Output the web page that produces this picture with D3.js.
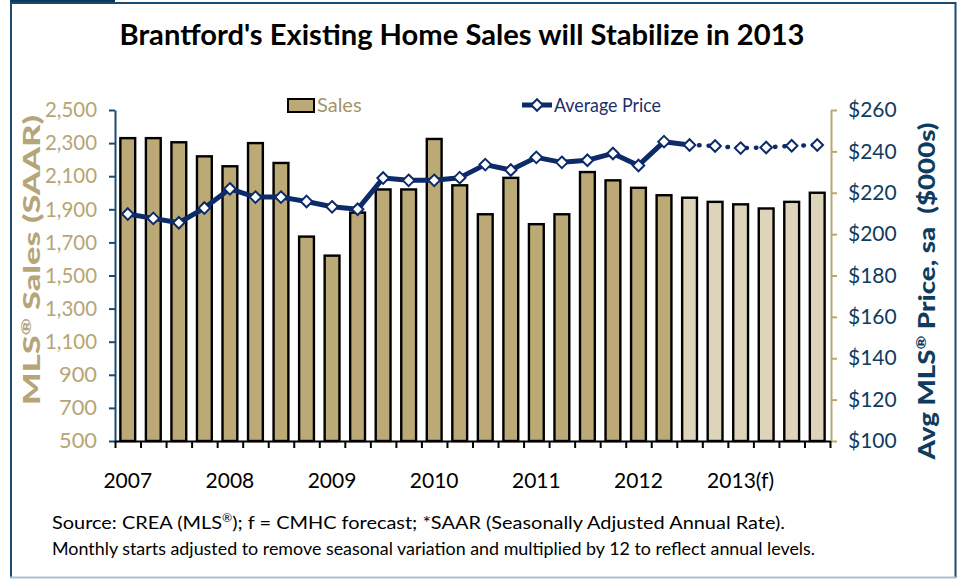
<!DOCTYPE html>
<html>
<head>
<meta charset="utf-8">
<script src="https://cdn.jsdelivr.net/npm/d3@7"></script>
<style>
  body { margin: 0; background: #fff; }
  svg { display: block; font-family: Lato, "Open Sans", sans-serif; }
</style>
</head>
<body>
<script>
// DATA
const quarters = [
  "2007Q1","2007Q2","2007Q3","2007Q4","2008Q1","2008Q2","2008Q3","2008Q4",
  "2009Q1","2009Q2","2009Q3","2009Q4","2010Q1","2010Q2","2010Q3","2010Q4",
  "2011Q1","2011Q2","2011Q3","2011Q4","2012Q1","2012Q2","2012Q3","2012Q4",
  "2013Q1","2013Q2","2013Q3","2013Q4"
];
const sales = [2330, 2330, 2305, 2220, 2160, 2300, 2180, 1735, 1620, 1880, 2020, 2020, 2325, 2045,
  1870, 2090, 1810, 1870, 2125, 2075, 2030, 1985, 1970, 1945, 1930, 1905, 1945, 2000];
const avgPrice = [209.7, 207.6, 205.5, 212.6, 221.9, 217.9, 217.9, 215.8, 213.2, 212.0, 227.1, 226.0,
  226.0, 227.3, 233.6, 231.0, 237.1, 234.7, 235.7, 239.0, 233.2, 244.7, 243.1, 242.6, 241.6, 241.9,
  242.7, 243.1];
const forecastStart = 22; // 2012Q3 onwards is forecast
const yearLabels = ["2007", "2008", "2009", "2010", "2011", "2012", "2013(f)"];
const salesTicks = [500, 700, 900, 1100, 1300, 1500, 1700, 1900, 2100, 2300, 2500];
const priceTicks = [100, 120, 140, 160, 180, 200, 220, 240, 260];

const width = 959, height = 579;
const plotLeft = 115, plotRight = 830, plotTop = 110, plotBottom = 441;
const TAN = "#bcaa76", TAN_LIGHT = "#ddd4b9", NAVY = "#0c2b68", TEAL = "#0f3c5e", TAN_TEXT = "#b5a578";

const svg = d3.select("body").append("svg").attr("width", width).attr("height", height);

// FRAME
svg.append("rect").attr("x", 10).attr("y", 0).attr("width", 105).attr("height", 4).attr("fill", "#0d3a5c");
svg.append("line").attr("x1", 10).attr("x2", 956).attr("y1", 3).attr("y2", 3).attr("stroke", "#1a4a70").attr("stroke-width", 2);
svg.append("line").attr("x1", 11).attr("x2", 11).attr("y1", 2).attr("y2", 578).attr("stroke", "#1a4a70").attr("stroke-width", 2);
svg.append("line").attr("x1", 955.5).attr("x2", 955.5).attr("y1", 2).attr("y2", 578).attr("stroke", "#1a4a70").attr("stroke-width", 2);
svg.append("line").attr("x1", 10).attr("x2", 956).attr("y1", 577.5).attr("y2", 577.5).attr("stroke", "#a9bfd0").attr("stroke-width", 2);

// TITLE
svg.append("text").attr("x", 462).attr("y", 45).attr("text-anchor", "middle")
  .attr("font-size", 29).attr("font-weight", 700).attr("fill", "#000")
  .attr("textLength", 685).attr("lengthAdjust", "spacingAndGlyphs")
  .text("Brantford's Existing Home Sales will Stabilize in 2013");

// SCALES
const x = d3.scaleBand().domain(quarters).range([plotLeft, plotRight]).paddingInner(0.42).paddingOuter(0.21);
const xIdx = d3.scaleLinear().domain([0, quarters.length]).range([plotLeft, plotRight]);
const ySales = d3.scaleLinear().domain([500, 2500]).range([plotBottom, plotTop]);
const yPrice = d3.scaleLinear().domain([100, 260]).range([plotBottom, plotTop]);

// BARS
svg.append("g").selectAll("rect").data(sales).join("rect")
  .attr("x", (d, i) => x(quarters[i]))
  .attr("y", d => ySales(d))
  .attr("width", x.bandwidth())
  .attr("height", d => plotBottom - ySales(d))
  .attr("fill", (d, i) => i >= forecastStart ? TAN_LIGHT : TAN)
  .attr("stroke", "#000").attr("stroke-width", 2.4);

// AXES
const leftAxis = svg.append("g").attr("transform", `translate(${plotLeft},0)`)
  .call(d3.axisLeft(ySales).tickValues(salesTicks).tickFormat(d3.format(",")).tickSize(6).tickSizeOuter(0).tickPadding(12));
leftAxis.selectAll("path, line").attr("stroke", "#1a4a70").attr("stroke-width", 2);
leftAxis.selectAll("text").attr("fill", TAN_TEXT).attr("font-size", 21).attr("font-family", "Lato")
  .attr("textLength", function () { return this.textContent.length > 3 ? 52 : 38; })
  .attr("lengthAdjust", "spacingAndGlyphs");

const rightAxis = svg.append("g").attr("transform", `translate(${plotRight + 1},0)`)
  .call(d3.axisRight(yPrice).tickValues(priceTicks).tickFormat(d => "$" + d).tickSize(6).tickSizeOuter(0).tickPadding(11));
rightAxis.selectAll("path, line").attr("stroke", "#b8a770").attr("stroke-width", 2);
rightAxis.selectAll("text").attr("fill", TEAL).attr("font-size", 21).attr("font-family", "Lato");

const xAxis = svg.append("g").attr("transform", `translate(0,${plotBottom})`)
  .call(d3.axisBottom(xIdx).tickValues(d3.range(0, quarters.length + 1)).tickFormat("").tickSize(7).tickSizeOuter(0));
xAxis.selectAll("path, line").attr("stroke", "#000").attr("stroke-width", 2);

svg.append("g").selectAll("text").data(yearLabels).join("text")
  .attr("x", (d, i) => x(quarters[i * 4]) + x.bandwidth() / 2)
  .attr("y", 488).attr("text-anchor", "middle")
  .attr("font-size", 21).attr("fill", "#000")
  .text(d => d);

// PRICE LINE
const pts = avgPrice.map((d, i) => [x(quarters[i]) + x.bandwidth() / 2, yPrice(d)]);
const line = d3.line();
svg.append("path").attr("d", line(pts.slice(0, forecastStart + 1)))
  .attr("fill", "none").attr("stroke", NAVY).attr("stroke-width", 5).attr("stroke-linejoin", "round");
svg.append("path").attr("d", line(pts.slice(forecastStart)))
  .attr("fill", "none").attr("stroke", NAVY).attr("stroke-width", 4.5)
  .attr("stroke-linecap", "round").attr("stroke-dasharray", "0.5,9");

const diamond = d3.symbol().type(d3.symbolDiamond2).size(85);
svg.append("g").selectAll("path").data(pts).join("path")
  .attr("transform", d => `translate(${d[0]},${d[1]})`)
  .attr("d", diamond).attr("fill", "#fff").attr("stroke", NAVY).attr("stroke-width", 2);

// LEGEND
svg.append("rect").attr("x", 288).attr("y", 99).attr("width", 26).attr("height", 13)
  .attr("fill", TAN).attr("stroke", "#000").attr("stroke-width", 2);
svg.append("text").attr("x", 317).attr("y", 112).attr("font-size", 20).attr("fill", "#a3946a").text("Sales");
svg.append("line").attr("x1", 522).attr("x2", 552).attr("y1", 105).attr("y2", 105)
  .attr("stroke", NAVY).attr("stroke-width", 5);
svg.append("path").attr("transform", "translate(537,105)").attr("d", diamond)
  .attr("fill", "#fff").attr("stroke", NAVY).attr("stroke-width", 2);
svg.append("text").attr("x", 554).attr("y", 112).attr("font-size", 20).attr("fill", "#1b2f6a")
  .attr("textLength", 107).attr("lengthAdjust", "spacingAndGlyphs").text("Average Price");

// AXIS TITLES
const lt = svg.append("text").attr("transform", "translate(40,260) rotate(-90)")
  .attr("text-anchor", "middle").attr("font-size", 23).attr("font-weight", 900).attr("fill", TAN_TEXT)
  .attr("textLength", 290).attr("lengthAdjust", "spacingAndGlyphs");
lt.append("tspan").text("MLS");
lt.append("tspan").attr("font-size", 14).attr("dy", -9).text("®");
lt.append("tspan").attr("dy", 9).text(" Sales (SAAR)");

const rt = svg.append("text").attr("transform", "translate(935,291) rotate(-90)")
  .attr("text-anchor", "middle").attr("font-size", 23).attr("font-weight", 900).attr("fill", TEAL)
  .attr("textLength", 337).attr("lengthAdjust", "spacingAndGlyphs");
rt.append("tspan").text("Avg MLS");
rt.append("tspan").attr("font-size", 14).attr("dy", -9).text("®");
rt.append("tspan").attr("dy", 9).attr("xml:space", "preserve").text(" Price, sa  ($000s)");

// FOOTER
const f1 = svg.append("text").attr("x", 52).attr("y", 529).attr("font-size", 18).attr("fill", "#000")
  .attr("textLength", 733).attr("lengthAdjust", "spacingAndGlyphs");
f1.append("tspan").text("Source: CREA (MLS");
f1.append("tspan").attr("font-size", 11).attr("dy", -7).text("®");
f1.append("tspan").attr("dy", 7).text("); f = CMHC forecast; *SAAR (Seasonally Adjusted Annual Rate).");
svg.append("text").attr("x", 52).attr("y", 555).attr("font-size", 18).attr("fill", "#000")
  .attr("textLength", 763).attr("lengthAdjust", "spacingAndGlyphs")
  .text("Monthly starts adjusted to remove seasonal variation and multiplied by 12 to reflect annual levels.");
</script>
</body>
</html>
